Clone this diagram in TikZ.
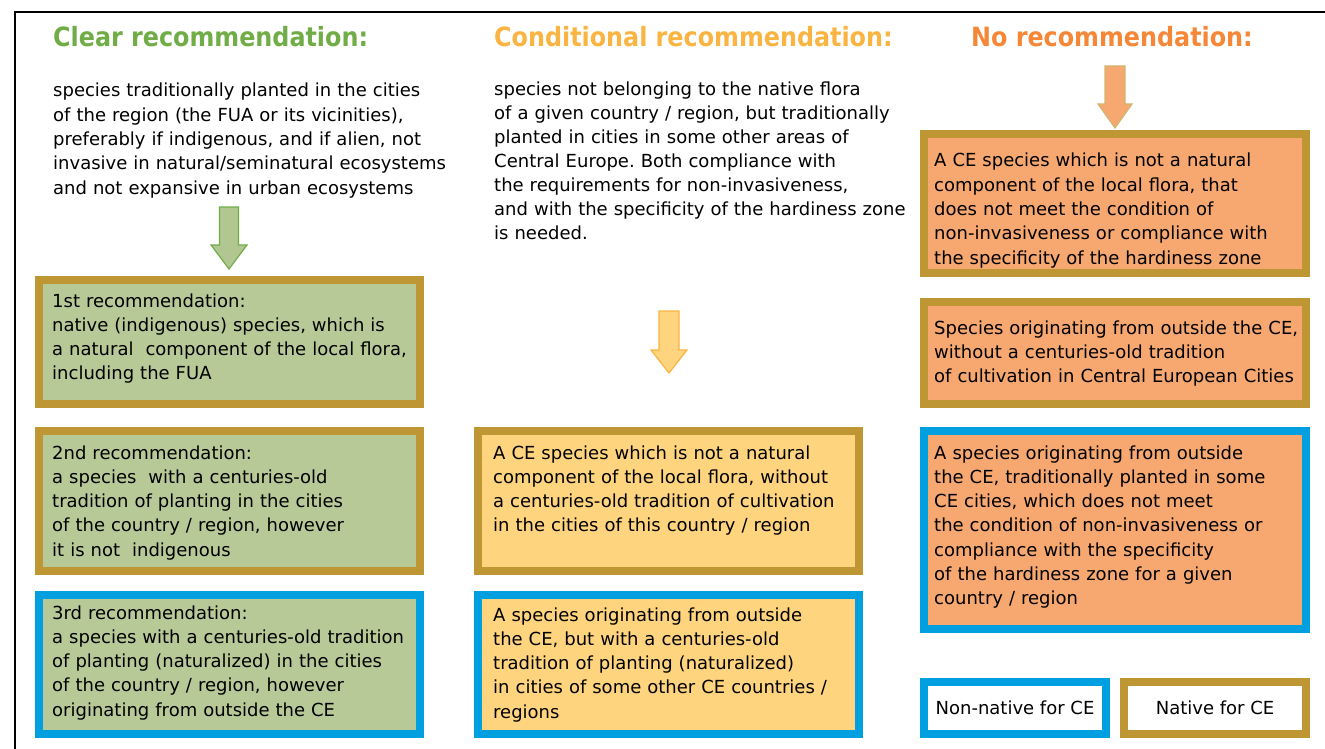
\documentclass[tikz,border=0pt]{standalone}
\usepackage{fontspec}
\setmainfont{DejaVu Sans}
\newfontfamily\headfont{DejaVu Sans Condensed}
\usepackage{tikz}
\frenchspacing

\definecolor{goldframe}{RGB}{191,150,52}
\definecolor{blueframe}{RGB}{0,160,224}
\definecolor{greenfill}{RGB}{184,201,152}
\definecolor{yellowfill}{RGB}{255,212,127}
\definecolor{orangefill}{RGB}{247,168,112}
\definecolor{greenhead}{RGB}{112,173,71}
\definecolor{yellowhead}{RGB}{250,180,65}
\definecolor{orangehead}{RGB}{245,135,55}

\begin{document}
\begin{tikzpicture}[x=1pt,y=-1pt,
  txt/.style={anchor=base west,inner sep=0pt,text width=420pt,align=left,font=\fontsize{18}{24.3}\selectfont},
  head/.style={anchor=base west,inner sep=0pt,font=\headfont\fontsize{26.5}{30}\selectfont\bfseries},
  card/.style={draw,line width=8pt,outer sep=4pt,inner sep=0pt,anchor=north west},
  nativebox/.style={card,draw=goldframe},
  alienbox/.style={card,draw=blueframe},
  blockarrow/.style={line width=1.2pt,line join=miter}]
\useasboundingbox (0,0) rectangle (1325,749);

%Straight Lines: outer frame
\draw [line width=1.2pt] (15,749) -- (15,12) -- (1325,12);

% Text Node: column heads
\node [head,text=greenhead] (hclear) at (53,47) {Clear recommendation:};
\node [head,text=yellowhead] (hcond) at (494,47) {Conditional recommendation:};
\node [head,text=orangehead] (hnone) at (971,47) {No recommendation:};

% Text Node
\node [txt] (pclear) at (53,97) {species traditionally planted in the cities\\
of the region (the FUA or its vicinities),\\
preferably if indigenous, and if alien, not\\
invasive in natural/seminatural ecosystems\\
and not expansive in urban ecosystems};
% Text Node
\node [txt,font=\fontsize{18}{24}\selectfont] (pcond) at (494,96) {species not belonging to the native flora\\
of a given country / region, but traditionally\\
planted in cities in some other areas of\\
Central Europe. Both compliance with\\
the requirements for non-invasiveness,\\
and with the specificity of the hardiness zone\\
is needed.};

%Shape: Down Arrow (green)
\draw [blockarrow,draw=greenhead,fill=greenfill!90!greenhead] (219.5,207) -- (238.5,207) -- (238.5,245) -- (247,245) -- (229,269) -- (211,245) -- (219.5,245) -- cycle;
%Shape: Down Arrow (yellow)
\draw [blockarrow,draw=yellowhead,fill=yellowfill] (659,311) -- (679,311) -- (679,350) -- (687,350) -- (669,373) -- (651,350) -- (659,350) -- cycle;
%Shape: Down Arrow (orange)
\draw [blockarrow,draw=goldframe!70,fill=orangefill] (1105,66) -- (1125,66) -- (1125,104) -- (1132,104) -- (1115,128) -- (1098,104) -- (1105,104) -- cycle;

%Shape: Rectangles, clear column
\node [nativebox,fill=greenfill,minimum width=381pt,minimum height=124pt] (clear1) at (35,276) {};
\node [nativebox,fill=greenfill,minimum width=381pt,minimum height=140pt] (clear2) at (35,427) {};
\node [alienbox,fill=greenfill,minimum width=381pt,minimum height=139pt] (clear3) at (35,591) {};
%Shape: Rectangles, conditional column
\node [nativebox,fill=yellowfill,minimum width=381pt,minimum height=140pt] (cond1) at (474,427) {};
\node [alienbox,fill=yellowfill,minimum width=381pt,minimum height=139pt] (cond2) at (474,591) {};
%Shape: Rectangles, no recommendation column
\node [nativebox,fill=orangefill,minimum width=382pt,minimum height=139pt] (none1) at (920,130) {};
\node [nativebox,fill=orangefill,minimum width=382pt,minimum height=102pt] (none2) at (920,298) {};
\node [alienbox,fill=orangefill,minimum width=382pt,minimum height=198pt] (none3) at (920,427) {};
%Shape: Rectangles, legend
\node [alienbox,fill=white,minimum width=182pt,minimum height=52pt] (legalien) at (920,678) {};
\node [nativebox,fill=white,minimum width=182pt,minimum height=52pt] (legnative) at (1120,678) {};

% Text Node
\node [txt] (tclear1) at (52,307) {1st recommendation:\\
native (indigenous) species, which is\\
a natural~ component of the local flora,\\
including the FUA};
% Text Node
\node [txt] (tclear2) at (52,459) {2nd recommendation:\\
a species~ with a centuries-old\\
tradition of planting in the cities\\
of the country / region, however\\
it is not~ indigenous};
% Text Node
\node [txt] (tclear3) at (52,619) {3rd recommendation:\\
a species with a centuries-old tradition\\
of planting (naturalized) in the cities\\
of the country / region, however\\
originating from outside the CE};
% Text Node
\node [txt] (tcond1) at (493,459) {A CE species which is not a natural\\
component of the local flora, without\\
a centuries-old tradition of cultivation\\
in the cities of this country / region};
% Text Node
\node [txt] (tcond2) at (493,621) {A species originating from outside\\
the CE, but with a centuries-old\\
tradition of planting (naturalized)\\
in cities of some other CE countries /\\
regions};
% Text Node
\node [txt] (tnone1) at (934,167) {A CE species which is not a natural\\
component of the local flora, that\\
does not meet the condition of\\
non-invasiveness or compliance with\\
the specificity of the hardiness zone};
% Text Node
\node [txt] (tnone2) at (934,334) {Species originating from outside the CE,\\
without a centuries-old tradition\\
of cultivation in Central European Cities};
% Text Node
\node [txt] (tnone3) at (934,459) {A species originating from outside\\
the CE, traditionally planted in some\\
CE cities, which does not meet\\
the condition of non-invasiveness or\\
compliance with the specificity\\
of the hardiness zone for a given\\
country / region};
% Text Node: legend
\node [font=\fontsize{18}{20}\selectfont] at (legalien.center) {Non-native for CE};
\node [font=\fontsize{18}{20}\selectfont] at (legnative.center) {Native for CE};

\end{tikzpicture}
\end{document}
